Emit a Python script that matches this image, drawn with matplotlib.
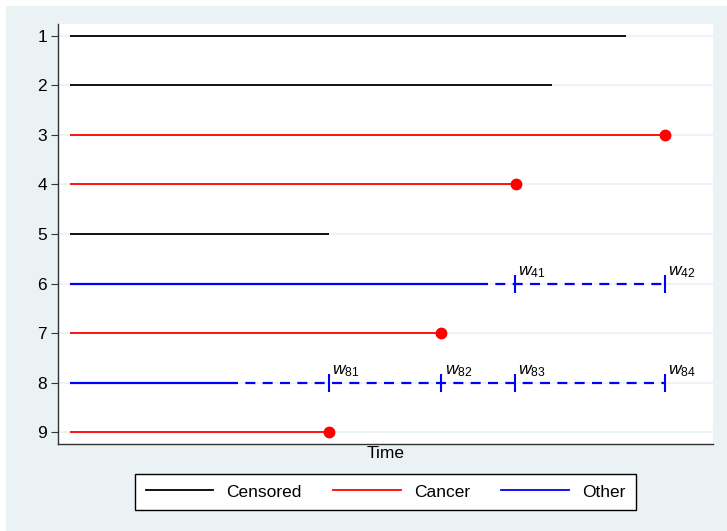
import matplotlib
matplotlib.use("Agg")
import matplotlib.pyplot as plt
from matplotlib.lines import Line2D
from matplotlib.patches import Rectangle

plt.rcParams['font.family'] = ['Liberation Sans', 'DejaVu Sans']
plt.rcParams['mathtext.fontset'] = 'custom'
plt.rcParams['mathtext.it'] = 'Liberation Sans:italic'
plt.rcParams['mathtext.rm'] = 'Liberation Sans'

# subjects and their follow-up
ids = [1, 2, 3, 4, 5, 6, 7, 8, 9]
stop = [93.5, 81.0, 100.0, 75.0, 43.5, 68.6, 62.4, 26.6, 43.5]
status = ['Censored', 'Censored', 'Cancer', 'Cancer', 'Censored',
          'Other', 'Cancer', 'Other', 'Cancer']

# weight times for subjects with a competing event
w_times = {6: [74.8, 100.0], 8: [43.5, 62.4, 74.8, 100.0]}
w_labels = {6: ['41', '42'], 8: ['81', '82', '83', '84']}

colors = {'Censored': 'black', 'Cancer': '#FF0000', 'Other': '#0000FF'}
bg = '#EAF2F3'

fig = plt.figure(figsize=(7.27, 5.31), dpi=100)
W, H = 727, 531
fig.patches.append(Rectangle((6 / W, 0), 1, 1 - 6 / H, transform=fig.transFigure,
                             facecolor=bg, edgecolor='none', zorder=-10))
ax = fig.add_axes([58 / W, (H - 444) / H, (713 - 58) / W, (444 - 24) / H])
ax.set_facecolor('white')

for i, t, s in zip(ids, stop, status):
    c = colors[s]
    lw = 1.6 if s == 'Other' else 1.3
    ax.plot([0, t], [i, i], color=c, lw=lw, solid_capstyle='butt', zorder=3)
    if s == 'Cancer':
        ax.plot(t, i, 'o', color=c, markersize=7.5, zorder=4)
    if i in w_times:
        wt = w_times[i]
        ax.plot([t, wt[-1]], [i, i], color=c, lw=1.6,
                linestyle=(0, (4.5, 3.3)), zorder=3)
        ax.plot(wt, [i] * len(wt), '|', color=c, markersize=13.5,
                markeredgewidth=1.5, zorder=4)
        for x, lab in zip(wt, w_labels[i]):
            ax.annotate(r'$w_{\mathrm{%s}}$' % lab, (x, i), xytext=(2.5, 6),
                        textcoords='offset points', ha='left', va='baseline',
                        fontsize=12.5, color='black')

ax.set_xlim(-2.0, 108.1)
ax.set_ylim(9.24, 0.76)
ax.set_yticks(ids)
ax.set_yticklabels([str(i) for i in ids], fontsize=12.5)
ax.tick_params(axis='y', length=5, width=0.8, pad=3, color='#333333')
ax.set_xticks([])
ax.yaxis.grid(True, color=bg, lw=1.2, zorder=0)
ax.set_axisbelow(True)
for side in ['top', 'right']:
    ax.spines[side].set_visible(False)
for side in ['left', 'bottom']:
    ax.spines[side].set_color('#333333')
    ax.spines[side].set_linewidth(1.0)
ax.set_xlabel('Time', fontsize=12.5, labelpad=1.5)

handles = [Line2D([], [], color=colors[k], lw=1.3) for k in ['Censored', 'Cancer', 'Other']]
leg = fig.legend(handles, ['Censored', 'Cancer', 'Other'], ncol=3,
                 loc='upper center', bbox_to_anchor=(385.5 / W, 1 - 474 / H),
                 fontsize=12.5, handlelength=3.9, handletextpad=0.75,
                 columnspacing=1.8, borderpad=0.6, borderaxespad=0,
                 fancybox=False, edgecolor='black', framealpha=1)
leg.get_frame().set_linewidth(1.0)

fig.savefig('out.png', dpi=100, facecolor='white')
